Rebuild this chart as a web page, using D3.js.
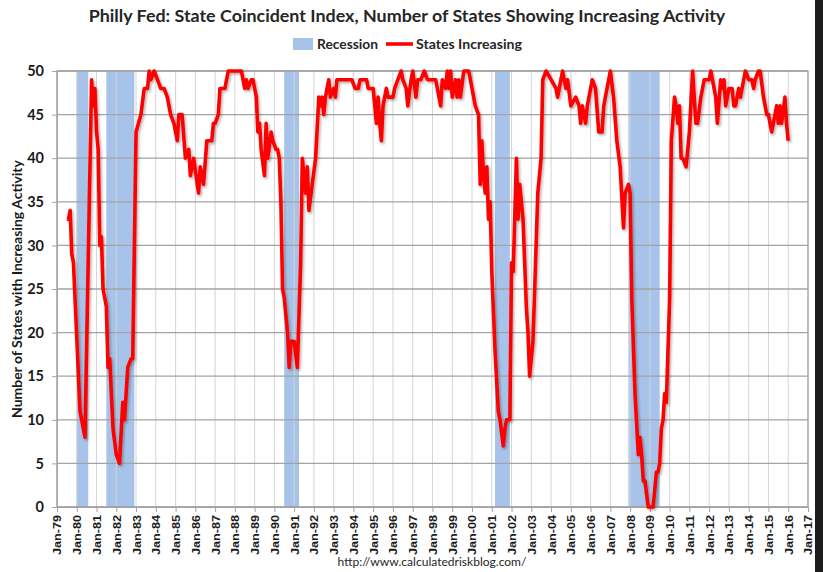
<!DOCTYPE html>
<html>
<head>
<meta charset="utf-8">
<script src="https://cdn.jsdelivr.net/npm/d3@7"></script>
<style>
  body { margin: 0; background: #fff; }
  svg { display: block; }
</style>
</head>
<body>
<svg id="chart" width="823" height="572"></svg>
<script>
// Data (month, number of states increasing)
var months = [
  "1979-07","1979-08","1979-09","1979-10","1979-11",
  "1980-03","1980-04","1980-06","1980-10","1980-11","1980-12",
  "1981-01","1981-02","1981-03","1981-04","1981-05","1981-07","1981-08","1981-09","1981-11",
  "1982-01","1982-03","1982-05","1982-06","1982-08","1982-10","1982-11",
  "1983-01","1983-04","1983-06","1983-08","1983-09","1983-10","1983-12",
  "1984-02","1984-04","1984-06","1984-08","1984-10","1984-12",
  "1985-02","1985-03","1985-05","1985-07","1985-09","1985-10","1985-12",
  "1986-03","1986-04","1986-06","1986-08","1986-11","1986-12",
  "1987-01","1987-03","1987-04","1987-07","1987-09",
  "1988-05","1988-07","1988-08","1988-09","1988-11","1988-12",
  "1989-02","1989-03","1989-04","1989-05","1989-07","1989-08","1989-09","1989-11","1989-12",
  "1990-02","1990-03","1990-04","1990-05","1990-06","1990-07","1990-09","1990-10","1990-11",
  "1991-01","1991-03","1991-05","1991-06","1991-08","1991-09","1991-10","1991-12",
  "1992-02","1992-04","1992-05","1992-06","1992-07","1992-08","1992-10","1992-11",
  "1993-01","1993-02","1993-03","1993-06","1993-12",
  "1994-02","1994-04","1994-05","1994-09","1994-10",
  "1995-01","1995-03","1995-04","1995-05","1995-06","1995-07","1995-09","1995-10",
  "1996-01","1996-02","1996-04","1996-06","1996-07","1996-09","1996-10","1996-12",
  "1997-01","1997-03","1997-04","1997-06","1997-08","1997-10",
  "1998-01","1998-03","1998-06","1998-07","1998-09","1998-10","1998-11","1998-12",
  "1999-01","1999-03","1999-04","1999-05","1999-06","1999-08","1999-11",
  "2000-01","2000-02","2000-03","2000-05","2000-06","2000-07","2000-08","2000-09","2000-10","2000-11","2000-12",
  "2001-01","2001-03","2001-05","2001-06","2001-08","2001-09","2001-10","2001-12",
  "2002-01","2002-02","2002-04","2002-05","2002-06","2002-08","2002-10","2002-11","2002-12",
  "2003-02","2003-05","2003-07","2003-08","2003-10",
  "2004-01","2004-04","2004-05","2004-07","2004-08","2004-10","2004-11",
  "2005-01","2005-04","2005-06","2005-07","2005-08","2005-10","2005-11",
  "2006-01","2006-02","2006-04","2006-06","2006-08","2006-09","2006-10","2006-12",
  "2007-01","2007-03","2007-05","2007-07","2007-09","2007-10","2007-12",
  "2008-01","2008-02","2008-04","2008-06","2008-07","2008-08","2008-09","2008-10","2008-12",
  "2009-03","2009-04","2009-05","2009-06","2009-07","2009-08","2009-09","2009-10","2009-11",
  "2010-01","2010-02","2010-04","2010-05","2010-06","2010-07","2010-08","2010-09","2010-11",
  "2011-01","2011-03","2011-05","2011-06","2011-08","2011-10",
  "2012-01","2012-02","2012-04","2012-05","2012-06","2012-08","2012-09","2012-10","2012-11",
  "2013-01","2013-03","2013-04","2013-05","2013-07","2013-08","2013-10","2013-11",
  "2014-01","2014-03","2014-04","2014-05","2014-07","2014-08","2014-10","2014-12",
  "2015-01","2015-03","2015-04","2015-06","2015-07","2015-08","2015-09","2015-11","2015-12",
  "2016-01"
];
var statesIncreasing = [
  33,33,34,29,28,
  11,10,8,49,46,48,
  43,41,30,31,25,23,16,17,9,
  6,5,12,10,16,17,17,
  43,45,48,48,50,49,50,
  49,48,48,47,45,44,
  42,45,45,40,41,38,40,
  36,39,37,42,42,44,
  44,45,48,48,50,
  50,48,49,48,49,49,
  47,43,44,41,38,44,40,43,42,
  41,41,40,35,25,24,20,16,19,
  19,16,28,40,36,39,34,37,
  40,47,46,47,45,47,49,47,
  48,47,49,49,49,
  48,48,49,49,48,
  48,44,47,44,42,46,48,47,
  47,48,49,50,49,48,46,49,
  50,47,49,49,50,49,
  49,49,46,49,48,50,48,50,
  47,49,47,49,47,50,50,
  48,47,46,45,37,42,38,36,39,33,35,
  27,18,11,10,7,9,10,10,
  28,27,40,33,37,33,23,20,15,
  19,36,40,49,50,
  49,48,47,49,50,48,49,
  46,47,46,44,46,44,46,
  48,49,48,43,43,46,47,49,
  50,47,42,39,32,36,37,
  36,24,13,6,8,6,3,3,0,
  0,2,4,4,5,9,10,13,12,
  24,42,47,46,44,46,40,40,39,
  43,50,44,44,47,49,
  49,50,48,47,44,49,48,49,46,
  48,48,46,46,48,47,49,50,
  49,49,48,49,50,50,47,45,
  45,43,44,46,44,46,44,47,44,
  42
];

// NBER recessions (start month, first month after end)
var recessionStart = ["1980-01","1981-07","1990-07","2001-03","2007-12"];
var recessionEnd   = ["1980-08","1982-12","1991-04","2001-12","2009-07"];

var yTicks = [0, 5, 10, 15, 20, 25, 30, 35, 40, 45, 50];
var xStart = "1979-01", xEnd = "2017-01";

var titleText = "Philly Fed: State Coincident Index, Number of States Showing Increasing Activity";
var yLabel = "Number of States with Increasing Activity";
var legendLabels = ["Recession", "States Increasing"];
var sourceText = "http://www.calculatedriskblog.com/";

var parseMonth = d3.timeParse("%Y-%m");
var data = months.map(function(m, i) { return { date: parseMonth(m), value: statesIncreasing[i] }; });
var recessions = recessionStart.map(function(s, i) { return { start: parseMonth(s), end: parseMonth(recessionEnd[i]) }; });

var svg = d3.select("#chart");
var plotLeft = 57, plotRight = 808, plotTop = 71, plotBottom = 507;

var x = d3.scaleTime().domain([parseMonth(xStart), parseMonth(xEnd)]).range([plotLeft, plotRight]);
var y = d3.scaleLinear().domain([0, 50]).range([plotBottom, plotTop]);

var font = "Lato, 'Liberation Sans', sans-serif";

// shadow for the line (Excel look)
var defs = svg.append("defs");
var f = defs.append("filter").attr("id", "shadow").attr("x", "-5%").attr("y", "-5%").attr("width", "110%").attr("height", "110%");
f.append("feDropShadow").attr("dx", 1.5).attr("dy", 1.8).attr("stdDeviation", 1.2)
  .attr("flood-color", "#000").attr("flood-opacity", 0.3);

// recession bars
svg.append("g").selectAll("rect")
  .data(recessions)
  .enter()
  .append("rect")
  .attr("x", function(d) { return x(d.start); })
  .attr("width", function(d) { return x(d.end) - x(d.start); })
  .attr("y", y(50))
  .attr("height", y(0) - y(50))
  .attr("fill", "#a7c3e9");

// vertical grid
var years = x.ticks(d3.timeYear.every(1));
svg.append("g").selectAll("line")
  .data(years)
  .enter()
  .append("line")
  .attr("x1", function(d) { return x(d); })
  .attr("x2", function(d) { return x(d); })
  .attr("y1", plotTop).attr("y2", plotBottom)
  .attr("stroke", "#d4d4d4").attr("stroke-width", 1);

// horizontal grid
svg.append("g").selectAll("line")
  .data(yTicks)
  .enter()
  .append("line")
  .attr("x1", plotLeft).attr("x2", plotRight)
  .attr("y1", function(d) { return y(d); })
  .attr("y2", function(d) { return y(d); })
  .attr("stroke", "#a3a3a3").attr("stroke-width", 1.3);

// plot border
svg.append("rect")
  .attr("x", plotLeft).attr("y", plotTop)
  .attr("width", plotRight - plotLeft).attr("height", plotBottom - plotTop)
  .attr("fill", "none").attr("stroke", "#a3a3a3").attr("stroke-width", 1.3);

// axes
var xAxis = svg.append("g")
  .attr("transform", "translate(0," + plotBottom + ")")
  .call(d3.axisBottom(x).ticks(d3.timeYear.every(1)).tickFormat(d3.timeFormat("%b-%y")).tickSize(5).tickSizeOuter(0));
xAxis.select(".domain").attr("stroke", "#a3a3a3");
xAxis.selectAll(".tick line").attr("stroke", "#a3a3a3");
xAxis.selectAll("text")
  .attr("transform", "rotate(-90)")
  .attr("x", -8).attr("y", 0).attr("dy", "0.36em")
  .style("text-anchor", "end")
  .attr("font-family", "'Liberation Sans', Arial, sans-serif")
  .attr("font-size", 11).attr("font-weight", "bold").attr("fill", "#1a1a1a")
  .attr("textLength", 40).attr("lengthAdjust", "spacingAndGlyphs");

var yAxis = svg.append("g")
  .attr("transform", "translate(" + plotLeft + ",0)")
  .call(d3.axisLeft(y).tickValues(yTicks).tickSize(5).tickSizeOuter(0).tickPadding(8));
yAxis.select(".domain").attr("stroke", "#a3a3a3");
yAxis.selectAll(".tick line").attr("stroke", "#a3a3a3");
yAxis.selectAll("text")
  .attr("font-family", font).attr("font-size", 14.5).attr("font-weight", "bold").attr("fill", "#1a1a1a");

// the series
var line = d3.line()
  .x(function(d) { return x(d.date); })
  .y(function(d) { return y(d.value); });

svg.append("path")
  .datum(data)
  .attr("d", line)
  .attr("fill", "none")
  .attr("stroke", "#ff0000")
  .attr("stroke-width", 3.6)
  .attr("stroke-linejoin", "round")
  .attr("filter", "url(#shadow)");

// fit text to a measured width
function fitWidth(sel, w) {
  var len = sel.node().getComputedTextLength();
  var fs = parseFloat(sel.attr("font-size"));
  sel.attr("font-size", (fs * w / len).toFixed(2));
}

// title
var title = svg.append("text")
  .attr("x", 407).attr("y", 22)
  .attr("text-anchor", "middle")
  .attr("font-family", font).attr("font-size", 18).attr("font-weight", "bold").attr("fill", "#262626")
  .text(titleText);
fitWidth(title, 637);

// legend
var legend = svg.append("g");
legend.append("rect").attr("x", 293).attr("y", 38).attr("width", 20).attr("height", 12).attr("fill", "#a7c3e9");
var l1 = legend.append("text").attr("x", 317).attr("y", 49)
  .attr("font-family", font).attr("font-size", 13).attr("font-weight", "bold").attr("fill", "#262626")
  .text(legendLabels[0]);
fitWidth(l1, 61);
legend.append("line").attr("x1", 386).attr("x2", 413).attr("y1", 44).attr("y2", 44)
  .attr("stroke", "#ff0000").attr("stroke-width", 3.6);
var l2 = legend.append("text").attr("x", 416).attr("y", 49)
  .attr("font-family", font).attr("font-size", 13).attr("font-weight", "bold").attr("fill", "#262626")
  .text(legendLabels[1]);
fitWidth(l2, 106);

// y axis title
var yt = svg.append("text")
  .attr("transform", "translate(22,289) rotate(-90)")
  .attr("text-anchor", "middle")
  .attr("font-family", font).attr("font-size", 13).attr("font-weight", "bold").attr("fill", "#1a1a1a")
  .text(yLabel);
fitWidth(yt, 258);

// source
var src = svg.append("text")
  .attr("x", 432).attr("y", 566)
  .attr("text-anchor", "middle")
  .attr("font-family", font).attr("font-size", 12).attr("fill", "#262626")
  .text(sourceText);
fitWidth(src, 189);

// dark strip on the right edge of the screenshot
svg.append("rect").attr("x", 815).attr("y", 0).attr("width", 8).attr("height", 572).attr("fill", "#1c1c1c");
</script>
</body>
</html>
